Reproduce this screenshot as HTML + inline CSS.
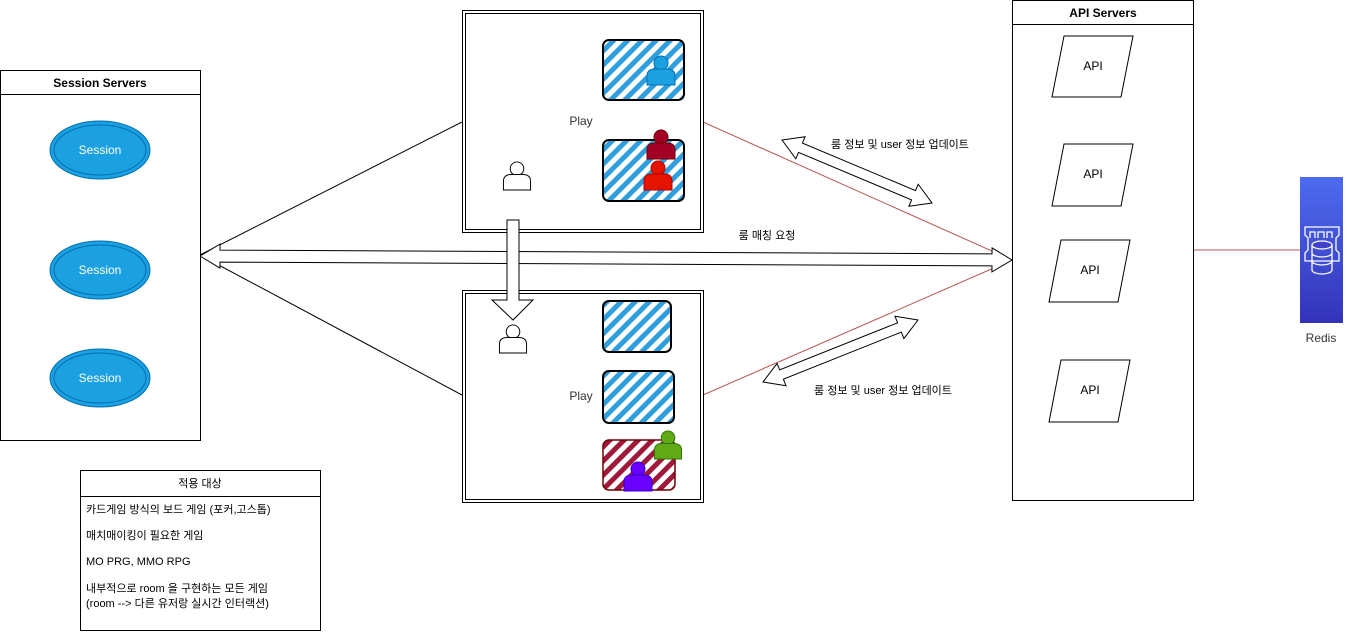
<!DOCTYPE html>
<html><head><meta charset="utf-8"><style>
html,body{margin:0;padding:0;background:#fff;}
svg{display:block;font-family:"Liberation Sans","Noto Sans CJK KR",sans-serif;}
</style></head><body>
<svg id="s" width="1372" height="634" viewBox="0 0 1372 634" xmlns="http://www.w3.org/2000/svg">
<defs>
<pattern id="hb" width="10" height="10" patternUnits="userSpaceOnUse" patternTransform="rotate(45)"><rect width="10" height="10" fill="#fff"/><rect width="5" height="10" fill="#2e9fdc"/></pattern>
<pattern id="hr" width="10" height="10" patternUnits="userSpaceOnUse" patternTransform="rotate(45)"><rect width="10" height="10" fill="#fff"/><rect width="5" height="10" fill="#a0183a"/></pattern>
<linearGradient id="rg" x1="0" y1="0" x2="0" y2="1"><stop offset="0" stop-color="#4d6bf0"/><stop offset="1" stop-color="#3333b8"/></linearGradient>
<symbol id="user" viewBox="0 0 32 32"><circle cx="16" cy="9" r="7"/><path d="M2 31 V22 Q2 15 10 15 H22 Q30 15 30 22 V31 Z"/></symbol>
</defs>

<line x1="200" y1="255" x2="462" y2="122" stroke="#000"/>
<line x1="200" y1="255" x2="462" y2="395" stroke="#000"/>
<line x1="703" y1="122" x2="1012" y2="260" stroke="#b85450"/>
<line x1="703" y1="395" x2="1012" y2="260" stroke="#b85450"/>
<line x1="1193" y1="250" x2="1300" y2="250" stroke="#b85450"/>

<g id="arrows"></g>

<g>
<rect x="0.5" y="70.5" width="200" height="370" fill="#fff" stroke="#000"/>
<line x1="0" y1="94.5" x2="200" y2="94.5" stroke="#000"/>
<text x="100" y="87" font-size="12" font-weight="bold" text-anchor="middle">Session Servers</text>
</g>
<g><ellipse cx="100" cy="150" rx="50" ry="29" fill="#1ba1e2" stroke="#006eaf"/><ellipse cx="100" cy="150" rx="46" ry="25" fill="none" stroke="#006eaf"/><text x="100" y="154" font-size="12" fill="#fff" text-anchor="middle">Session</text></g>
<g><ellipse cx="100" cy="270" rx="50" ry="29" fill="#1ba1e2" stroke="#006eaf"/><ellipse cx="100" cy="270" rx="46" ry="25" fill="none" stroke="#006eaf"/><text x="100" y="274" font-size="12" fill="#fff" text-anchor="middle">Session</text></g>
<g><ellipse cx="100" cy="378" rx="50" ry="29" fill="#1ba1e2" stroke="#006eaf"/><ellipse cx="100" cy="378" rx="46" ry="25" fill="none" stroke="#006eaf"/><text x="100" y="382" font-size="12" fill="#fff" text-anchor="middle">Session</text></g>

<g>
<rect x="462.5" y="10.5" width="241" height="222" fill="#fff" stroke="#000"/>
<rect x="465.5" y="13.5" width="235" height="216" fill="none" stroke="#000"/>
<text x="581" y="125" font-size="12" fill="#333" text-anchor="middle">Play</text>
</g>
<rect x="603" y="40" width="81" height="60" rx="6" fill="url(#hb)" stroke="#000" stroke-width="2"/>
<rect x="603" y="140" width="81" height="61" rx="6" fill="url(#hb)" stroke="#000" stroke-width="2"/>
<use href="#user" x="645" y="54" width="32" height="32" fill="#1ba1e2" stroke="#006eaf"/>
<use href="#user" x="645" y="128" width="32" height="32" fill="#a20025" stroke="#6f0000"/>
<use href="#user" x="641" y="159" width="34" height="32" fill="#e51400" stroke="#b20000"/>
<use href="#user" x="501" y="160" width="32" height="31" fill="#fff" stroke="#000"/>

<g>
<rect x="462.5" y="290.5" width="241" height="212" fill="#fff" stroke="#000"/>
<rect x="465.5" y="293.5" width="235" height="206" fill="none" stroke="#000"/>
<text x="581" y="400" font-size="12" fill="#333" text-anchor="middle">Play</text>
</g>
<rect x="603" y="301" width="68" height="51" rx="6" fill="url(#hb)" stroke="#000" stroke-width="2"/>
<rect x="603" y="371" width="71" height="52" rx="6" fill="url(#hb)" stroke="#000" stroke-width="2"/>
<rect x="603" y="440" width="72" height="50" rx="6" fill="url(#hr)" stroke="#6f0000" stroke-width="1.5"/>
<use href="#user" x="652" y="429" width="32" height="31" fill="#60a917" stroke="#2d7600"/>
<use href="#user" x="622" y="460" width="32" height="32" fill="#6a00ff" stroke="#3700cc"/>
<use href="#user" x="497" y="323" width="32" height="31" fill="#fff" stroke="#000"/>

<polygon points="507,220 519,220 519,300 533,300 513,320 492,300 507,300" fill="#fff" stroke="#000"/>

<text x="900" y="148" font-size="11" text-anchor="middle">룸 정보 및 user 정보 업데이트</text>
<text x="767" y="239" font-size="11" text-anchor="middle">룸 매칭 요청</text>
<text x="883" y="394" font-size="11" text-anchor="middle">룸 정보 및 user 정보 업데이트</text>

<g>
<rect x="1012.5" y="0.5" width="181" height="500" fill="#fff" stroke="#000"/>
<line x1="1012" y1="24.5" x2="1193" y2="24.5" stroke="#000"/>
<text x="1103" y="17" font-size="12" font-weight="bold" text-anchor="middle">API Servers</text>
</g>
<g><polygon points="1064,36 1133,36 1121,97 1052,97" fill="#fff" stroke="#000"/><text x="1093" y="70" font-size="12" text-anchor="middle">API</text></g>
<g><polygon points="1064,144 1133,144 1121,206 1052,206" fill="#fff" stroke="#000"/><text x="1093" y="178" font-size="12" text-anchor="middle">API</text></g>
<g><polygon points="1061,240 1130,240 1118,302 1049,302" fill="#fff" stroke="#000"/><text x="1090" y="274" font-size="12" text-anchor="middle">API</text></g>
<g><polygon points="1061,360 1130,360 1118,422 1049,422" fill="#fff" stroke="#000"/><text x="1090" y="394" font-size="12" text-anchor="middle">API</text></g>

<g>
<rect x="1300" y="177" width="43" height="146" fill="url(#rg)"/>
<g fill="none" stroke="#fff" stroke-width="1.3">
<path d="M1305,227 h34 v8 l-3,3 v12 l3,3 v8 h-34 v-8 l3,-3 v-12 l-3,-3 z"/>
<path d="M1310,238 v-6 h5 v6 M1318,238 v-6 h6 v6 M1327,238 v-6 h5 v6"/>
<ellipse cx="1322" cy="245" rx="10" ry="4" fill="#4040c8"/>
<path d="M1312,245 v25 a10,4 0 0 0 20,0 v-25 M1312,253 a10,4 0 0 0 20,0 M1312,261 a10,4 0 0 0 20,0"/>
</g>
<text x="1321" y="342" font-size="12" fill="#333" text-anchor="middle">Redis</text>
</g>

<g>
<rect x="80.5" y="470.5" width="240" height="160" fill="#fff" stroke="#000"/>
<line x1="80" y1="496.5" x2="320" y2="496.5" stroke="#000"/>
<text x="200" y="487" font-size="11" text-anchor="middle">적용 대상</text>
<g font-size="11">
<text x="86" y="513">카드게임 방식의  보드 게임 (포커,고스톱)</text>
<text x="86" y="539">매치매이킹이 필요한 게임</text>
<text x="86" y="565">MO PRG, MMO RPG</text>
<text x="86" y="592">내부적으로 room 을 구현하는 모든 게임</text>
<text x="86" y="607">(room --&gt; 다른 유저랑 실시간 인터랙션)</text>
</g>
</g>
</svg>
<script>
function dblArrow(name,x1,y1,x2,y2,w,hw,hl){
  var dx=x2-x1,dy=y2-y1,L=Math.hypot(dx,dy),ux=dx/L,uy=dy/L,nx=-uy,ny=ux;
  function p(a,b){return (x1+ux*a+nx*b).toFixed(1)+','+(y1+uy*a+ny*b).toFixed(1);}
  var pts=[p(0,0),p(hl,hw),p(hl,w/2),p(L-hl,w/2),p(L-hl,hw),p(L,0),p(L-hl,-hw),p(L-hl,-w/2),p(hl,-w/2),p(hl,-hw)];
  var el=document.createElementNS('http://www.w3.org/2000/svg','polygon');
  el.setAttribute('points',pts.join(' '));
  el.setAttribute('fill','#fff');el.setAttribute('stroke','#000');
  
  
  document.getElementById('arrows').appendChild(el);
}
dblArrow('matching-request-arrow',200,256,1012,260,12,12,20);
dblArrow('room1-api-update-arrow',782,140,932,203,10,12,20);
dblArrow('room2-api-update-arrow',763,382,918,320,10,12,20);
</script>
</body></html>
